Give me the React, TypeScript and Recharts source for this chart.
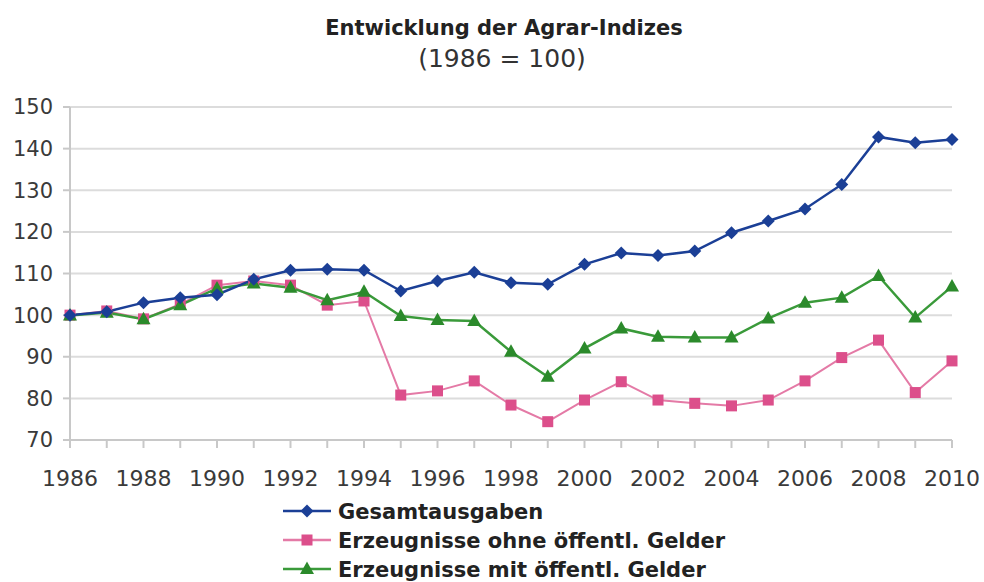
import React from "react";
import { LineChart, Line, XAxis, YAxis, CartesianGrid } from "recharts";

const years = [
  1986, 1987, 1988, 1989, 1990, 1991, 1992, 1993, 1994, 1995, 1996, 1997,
  1998, 1999, 2000, 2001, 2002, 2003, 2004, 2005, 2006, 2007, 2008, 2009, 2010,
];
const gesamtausgaben = [
  100, 100.8, 103, 104.2, 104.9, 108.6, 110.8, 111, 110.8, 105.8, 108.2, 110.3,
  107.8, 107.4, 112.2, 114.9, 114.3, 115.4, 119.8, 122.6, 125.5, 131.4, 142.8, 141.4, 142.2,
];
const ohneGelder = [
  100, 101, 99.1, 102.6, 107.2, 108.2, 107.2, 102.4, 103.4, 80.8, 81.8, 84.2,
  78.4, 74.4, 79.6, 84, 79.6, 78.8, 78.2, 79.6, 84.2, 89.8, 94, 81.4, 89,
];
const mitGelder = [
  99.9, 100.6, 99, 102.4, 106.4, 107.6, 106.6, 103.6, 105.6, 99.8, 98.8, 98.6,
  91.2, 85.2, 92, 96.8, 94.8, 94.6, 94.6, 99.2, 103, 104.2, 109.4, 99.4, 106.9,
];
const yTicks = [70, 80, 90, 100, 110, 120, 130, 140, 150];

const data = years.map((year, i) => ({
  year,
  gesamt: gesamtausgaben[i],
  ohne: ohneGelder[i],
  mit: mitGelder[i],
}));

const FONT = "'DejaVu Sans', Verdana, sans-serif";
const BLUE = "#1b3f96";
const PINK = "#dc4f8b";
const PINK_LINE = "#e47aa6";
const GREEN = "#2b8a2b";
const GREEN_LINE = "#3a9a3a";

const Diamond = (props: any) => {
  const { cx, cy, fill } = props;
  if (cx == null || cy == null) return null;
  const r = 6.5;
  return (
    <polygon
      points={`${cx},${cy - r} ${cx + r},${cy} ${cx},${cy + r} ${cx - r},${cy}`}
      fill={fill}
    />
  );
};

const Square = (props: any) => {
  const { cx, cy, fill } = props;
  if (cx == null || cy == null) return null;
  const s = 11;
  return <rect x={cx - s / 2} y={cy - s / 2} width={s} height={s} fill={fill} />;
};

const Triangle = (props: any) => {
  const { cx, cy, fill } = props;
  if (cx == null || cy == null) return null;
  return (
    <polygon
      points={`${cx},${cy - 7.5} ${cx + 7},${cy + 5} ${cx - 7},${cy + 5}`}
      fill={fill}
    />
  );
};

const XTick = (props: any) => {
  const { x, payload } = props;
  if (payload.value % 2 !== 0) return null;
  return (
    <text x={x} y={486} textAnchor="middle" fontFamily={FONT} fontSize={22} fill="#3a3a3a">
      {payload.value}
    </text>
  );
};

const legendItems = [
  { label: "Gesamtausgaben", color: BLUE, line: BLUE, Shape: Diamond },
  { label: "Erzeugnisse ohne öffentl. Gelder", color: PINK, line: PINK_LINE, Shape: Square },
  { label: "Erzeugnisse mit öffentl. Gelder", color: GREEN, line: GREEN_LINE, Shape: Triangle },
];

export default function App() {
  return (
    <div style={{ position: "absolute", left: 0, top: 0, width: 984, height: 582, background: "#fff" }}>
      <LineChart
        width={984}
        height={582}
        data={data}
        margin={{ top: 107, right: 32, left: 10, bottom: 102 }}
      >
        <CartesianGrid vertical={false} stroke="#dcdcdc" strokeWidth={2} />
        <XAxis
          dataKey="year"
          type="number"
          domain={[1986, 2010]}
          ticks={years}
          interval={0}
          tick={<XTick />}
          tickSize={8}
          stroke="#c8c8c8"
          strokeWidth={2}
          height={40}
        />
        <YAxis
          domain={[70, 150]}
          ticks={yTicks}
          interval={0}
          width={60}
          tickSize={7}
          tickMargin={10}
          stroke="#c8c8c8"
          strokeWidth={2}
          tick={{ fontFamily: FONT, fontSize: 21, fill: "#3a3a3a" }}
        />
        <Line
          dataKey="ohne"
          stroke={PINK_LINE}
          strokeWidth={2}
          dot={<Square fill={PINK} />}
          isAnimationActive={false}
        />
        <Line
          dataKey="mit"
          stroke={GREEN_LINE}
          strokeWidth={2.5}
          dot={<Triangle fill={GREEN} />}
          isAnimationActive={false}
        />
        <Line
          dataKey="gesamt"
          stroke={BLUE}
          strokeWidth={2.5}
          dot={<Diamond fill={BLUE} />}
          isAnimationActive={false}
        />
      </LineChart>
      <svg width={984} height={582} style={{ position: "absolute", left: 0, top: 0, pointerEvents: "none" }}>
        <text x={504} y={35} textAnchor="middle" fontFamily={FONT} fontWeight="bold" fontSize={21} fill="#222">
          Entwicklung der Agrar-Indizes
        </text>
        <text x={502} y={67} textAnchor="middle" fontFamily={FONT} fontSize={25} fill="#333">
          (1986 = 100)
        </text>
        {legendItems.map((it, i) => {
          const cy = 511 + i * 29;
          return (
            <g key={it.label}>
              <line x1={283} x2={331} y1={cy} y2={cy} stroke={it.line} strokeWidth={2.5} />
              <it.Shape cx={307} cy={cy} fill={it.color} />
              <text x={338} y={cy + 7.5} fontFamily={FONT} fontWeight="bold" fontSize={21} fill="#222">
                {it.label}
              </text>
            </g>
          );
        })}
      </svg>
    </div>
  );
}
